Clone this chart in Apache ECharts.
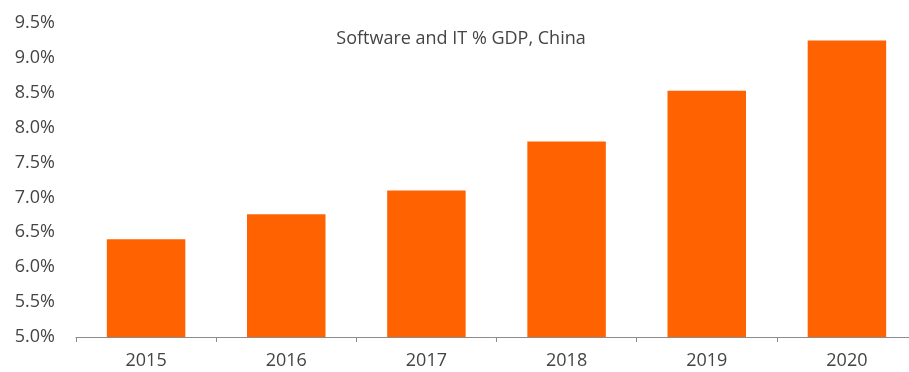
<!DOCTYPE html>
<html>
<head>
<meta charset="utf-8">
<script src="https://cdn.jsdelivr.net/npm/echarts@6/dist/echarts.min.js"></script>
<style>
  html, body { margin: 0; padding: 0; background: #fff; }
  #chart { width: 909px; height: 372px; }
</style>
</head>
<body>
<div id="chart"></div>
<script>
// values
const years = ['2015', '2016', '2017', '2018', '2019', '2020'];
const shareOfGdp = [6.40, 6.76, 7.10, 7.80, 8.53, 9.25];
const yTicks = [5.0, 5.5, 6.0, 6.5, 7.0, 7.5, 8.0, 8.5, 9.0, 9.5];

const chart = echarts.init(document.getElementById('chart'));

const option = {
    animation: false,
    title: {
        text: 'Software and IT % GDP, China',
        left: 456,
        top: 25,
        textAlign: 'center',
        textStyle: {
            fontFamily: 'Open Sans',
            fontSize: 18,
            fontWeight: 'normal',
            color: '#444'
        }
    },
    grid: {
        left: 76,
        top: 23,
        width: 841,
        height: 314,
        outerBoundsMode: 'none'
    },
    xAxis: {
        type: 'category',
        data: years,
        axisLine: { lineStyle: { color: '#8c8c8c', width: 1 } },
        axisTick: { show: true, length: 5, lineStyle: { color: '#8c8c8c' } },
        axisLabel: {
            margin: 15,
            fontFamily: 'Open Sans',
            fontSize: 18,
            color: '#444'
        }
    },
    yAxis: {
        type: 'value',
        min: yTicks[0],
        max: yTicks[yTicks.length - 1],
        interval: 0.5,
        axisLine: { show: false },
        axisTick: { show: false },
        splitLine: { show: false },
        axisLabel: {
            margin: 21,
            fontFamily: 'Open Sans',
            fontSize: 18,
            color: '#444',
            formatter: v => v.toFixed(1) + '%'
        }
    },
    series: [{
        type: 'bar',
        data: shareOfGdp,
        barWidth: '56%',
        itemStyle: { color: '#ff6200' }
    }]
};

chart.setOption(option);
</script>
</body>
</html>
